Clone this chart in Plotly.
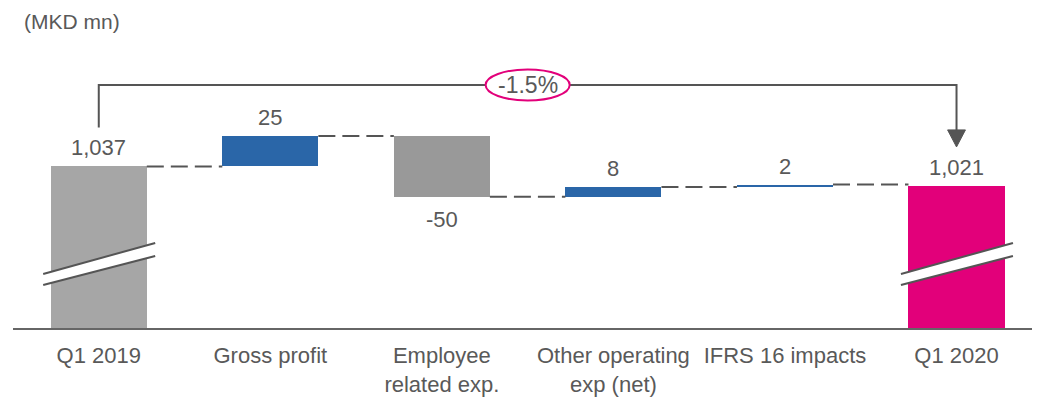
import plotly.graph_objects as go

# ---------------- data ----------------
categories = ["Q1 2019", "Gross profit", "Employee<br>related exp.",
              "Other operating<br>exp (net)", "IFRS 16 impacts", "Q1 2020"]
values = [1037, 25, -50, 8, 2, 1021]
kinds = ["total", "delta", "delta", "delta", "delta", "total"]
labels = ["1,037", "25", "-50", "8", "2", "1,021"]
colors = ["#a6a6a6", "#2a66a8", "#999999", "#2a66a8", "#2a66a8", "#e2007a"]
unit_label = "(MKD mn)"

# axis (broken) floor and top
axis_floor = 904
axis_top = 1141

FONT = "Liberation Sans, Arial, sans-serif"
TXT = "#595959"
DARK = "#555555"
BAR_W = 0.56

# ---------------- waterfall geometry ----------------
bases, heights, ends = [], [], []
running = 0
for v, k in zip(values, kinds):
    if k == "total":
        bases.append(axis_floor)
        heights.append(v - axis_floor)
        running = v
    else:
        if v >= 0:
            bases.append(running)
        else:
            bases.append(running + v)
        heights.append(abs(v))
        running += v
    ends.append(running)

xs = list(range(len(categories)))

fig = go.Figure()
fig.add_trace(go.Bar(
    x=xs, y=heights, base=bases, width=BAR_W,
    marker=dict(color=colors, line=dict(width=0)),
    hoverinfo="skip", showlegend=False,
))

shapes = []
annotations = []

# dashed connectors
for i in range(len(xs) - 1):
    lvl = ends[i]
    shapes.append(dict(type="line", xref="x", yref="y",
                       x0=xs[i] + BAR_W / 2, x1=xs[i + 1] - BAR_W / 2,
                       y0=lvl, y1=lvl,
                       line=dict(color=DARK, width=2, dash="17px,7px")))

# value labels
for i, (v, k) in enumerate(zip(values, kinds)):
    top = bases[i] + heights[i]
    if k == "delta" and v < 0:
        annotations.append(dict(x=xs[i], y=bases[i], xref="x", yref="y",
                                text=labels[i], showarrow=False,
                                yanchor="top", yshift=-8,
                                font=dict(family=FONT, size=22, color=TXT)))
    else:
        annotations.append(dict(x=xs[i], y=top, xref="x", yref="y",
                                text=labels[i], showarrow=False,
                                yanchor="bottom", yshift=4,
                                font=dict(family=FONT, size=22, color=TXT)))

# axis break marks on the total bars
for i, k in enumerate(kinds):
    if k != "total":
        continue
    xl, xr = xs[i] - 0.324, xs[i] + 0.329
    lo_l, lo_r = 939.4, 963.3
    hi_l, hi_r = 948.4, 974.0
    shapes.append(dict(type="path", xref="x", yref="y",
                       path=f"M {xl},{lo_l} L {xr},{lo_r} L {xr},{hi_r} L {xl},{hi_l} Z",
                       fillcolor="white", line=dict(width=0)))
    shapes.append(dict(type="line", xref="x", yref="y", x0=xl, x1=xr,
                       y0=lo_l, y1=lo_r, line=dict(color=DARK, width=2)))
    shapes.append(dict(type="line", xref="x", yref="y", x0=xl, x1=xr,
                       y0=hi_l, y1=hi_r, line=dict(color=DARK, width=2)))

# bracket with change %
first, last = xs[0], xs[-1]
bracket_y = 1104
left_bottom = values[0] + 32
arrow_tip = values[-1] + 32
head_top = arrow_tip + 14
shapes.append(dict(type="path", xref="x", yref="y",
                   path=f"M {first},{left_bottom} L {first},{bracket_y} L {last},{bracket_y} L {last},{head_top}",
                   line=dict(color=DARK, width=2)))
shapes.append(dict(type="path", xref="x", yref="y",
                   path=f"M {last-0.052},{head_top} L {last+0.052},{head_top} L {last},{arrow_tip} Z",
                   fillcolor=DARK, line=dict(color=DARK, width=1)))
mid = (first + last) / 2
shapes.append(dict(type="circle", xref="x", yref="y",
                   x0=mid - 0.245, x1=mid + 0.245,
                   y0=bracket_y - 12.8, y1=bracket_y + 12.8,
                   fillcolor="white", line=dict(color="#e2007a", width=2)))
pct = (values[-1] - values[0]) / values[0] * 100
annotations.append(dict(x=mid, y=bracket_y, xref="x", yref="y",
                        text=f"{pct:.1f}%", showarrow=False,
                        font=dict(family=FONT, size=23, color=TXT)))

# unit label
annotations.append(dict(x=0, y=1.111, xref="paper", yref="paper",
                        xanchor="left", yanchor="top", xshift=9,
                        text=unit_label, showarrow=False,
                        font=dict(family=FONT, size=21, color=TXT)))

# page body has an 8px default margin -> figure is sized to fit the window
fig.update_layout(
    width=1045, height=392,
    margin=dict(l=5, r=21, t=32, b=72),
    paper_bgcolor="white", plot_bgcolor="white",
    shapes=shapes, annotations=annotations,
    bargap=0,
    xaxis=dict(range=[-0.5, 5.44], tickvals=xs, ticktext=categories,
               showline=True, linecolor="#666666", linewidth=2,
               showgrid=False, zeroline=False, ticks="",
               tickangle=0, automargin=False, ticklabelstandoff=7,
               tickfont=dict(family=FONT, size=22, color=TXT)),
    yaxis=dict(range=[axis_floor, axis_top], visible=False,
               showgrid=False, zeroline=False, automargin=False),
)

fig.write_html("out.html")
